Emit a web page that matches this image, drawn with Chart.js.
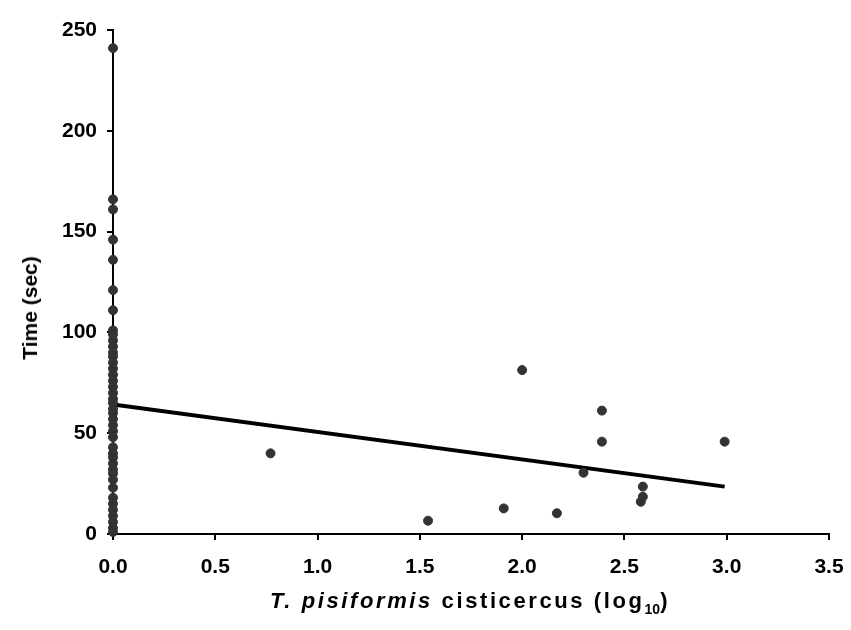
<!DOCTYPE html>
<html>
<head>
<meta charset="utf-8">
<script src="https://cdn.jsdelivr.net/npm/chart.js@4"></script>
<style>
  html, body { margin: 0; padding: 0; background: #fff; }
  #wrap { position: relative; width: 851px; height: 630px; }
  .ttl { position: absolute; font-family: "Liberation Sans", Arial, sans-serif; font-weight: bold; color: #000; white-space: nowrap; }
  #xTitle { left: 0; width: 940px; top: 588px; text-align: center; font-size: 22px; letter-spacing: 2.6px; }
  #yTitle { left: 30px; top: 308px; font-size: 21px; transform: translate(-50%, -50%) rotate(-90deg); }
  sub { font-size: 14px; vertical-align: -6px; letter-spacing: 0; }
</style>
</head>
<body>
<div id="wrap">
  <canvas id="myChart" width="851" height="630"></canvas>
  <div class="ttl" id="xTitle"><i>T. pisiformis</i> cisticercus (log<sub>10</sub>)</div>
  <div class="ttl" id="yTitle">Time (sec)</div>
</div>
<script>
// animals with no cysts (log10 = 0)
var zeroTimes = [241, 166, 161, 146, 136, 121, 111, 101, 99, 96, 93, 90, 88, 85, 82, 79, 76, 73, 70, 67,
  65, 62, 60, 57, 54, 51, 48, 43, 40, 38, 35, 32, 30, 27, 23, 18, 15, 12, 9, 6, 3, 1];
// infected animals
var cystLog = [0.77, 1.54, 1.91, 2.0, 2.17, 2.3, 2.39, 2.39, 2.59, 2.59, 2.58, 2.99];
var cystTimes = [40, 6.6, 12.7, 81.3, 10.3, 30.4, 61.2, 45.8, 23.5, 18.5, 16, 45.8];
// regression line ends
var trendX = [0, 2.99];
var trendY = [64.3, 23.5];
var xTicks = [0, 0.5, 1, 1.5, 2, 2.5, 3, 3.5];
var yTicks = [0, 50, 100, 150, 200, 250];

var points = zeroTimes.map(function (t) { return { x: 0, y: t }; })
  .concat(cystLog.map(function (v, i) { return { x: v, y: cystTimes[i] }; }));
var trend = trendX.map(function (v, i) { return { x: v, y: trendY[i] }; });

var tickFont = { family: "'Liberation Sans', Arial, sans-serif", size: 21, weight: 'bold' };

new Chart("myChart", {
    type: "scatter",
    data: {
        datasets: [{
            data: points,
            backgroundColor: "#333333",
            borderColor: "#333333",
            pointRadius: 4.5,
            pointHoverRadius: 4.5,
            clip: false
        }, {
            type: "line",
            data: trend,
            borderColor: "#000000",
            borderWidth: 4,
            pointRadius: 0,
            fill: false
        }]
    },
    options: {
        responsive: false,
        animation: false,
        layout: { autoPadding: false, padding: { top: 30, right: 22, left: 0, bottom: 0 } },
        plugins: { legend: { display: false }, tooltip: { enabled: false } },
        scales: {
            x: {
                type: "linear",
                min: 0, max: 3.5,
                afterBuildTicks: function (s) { s.ticks = xTicks.map(function (v) { return { value: v }; }); },
                afterFit: function (s) { s.height = 96; s.paddingLeft = 0; s.paddingRight = 0; },
                grid: { drawOnChartArea: false, drawTicks: true, tickLength: 6, color: "#000", lineWidth: 2 },
                border: { display: true, color: "#000", width: 2 },
                ticks: { color: "#000", font: tickFont, padding: 15, maxRotation: 0,
                    callback: function (v) { return v.toFixed(1); } }
            },
            y: {
                type: "linear",
                min: 0, max: 250,
                afterBuildTicks: function (s) { s.ticks = yTicks.map(function (v) { return { value: v }; }); },
                afterFit: function (s) { s.width = 113; s.paddingTop = 0; s.paddingBottom = 0; },
                grid: { drawOnChartArea: false, drawTicks: true, tickLength: 6, color: "#000", lineWidth: 2 },
                border: { display: true, color: "#000", width: 2 },
                ticks: { color: "#000", font: tickFont, padding: 10 }
            }
        }
    }
});
</script>
</body>
</html>
